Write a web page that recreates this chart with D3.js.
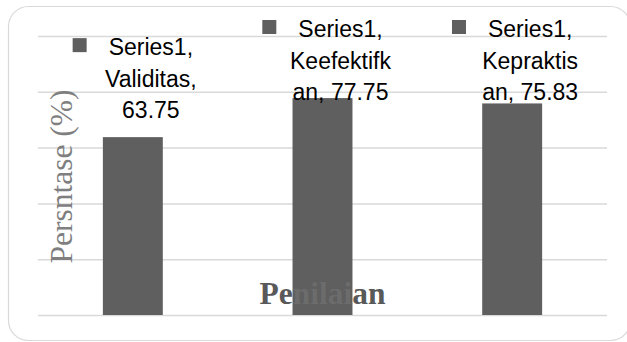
<!DOCTYPE html>
<html>
<head>
<meta charset="utf-8">
<script src="https://cdn.jsdelivr.net/npm/d3@7"></script>
<style>
	html, body { margin: 0; padding: 0; background: #fff; }
	svg { display: block; }
</style>
</head>
<body>
<div id="chart"></div>
<script>
// chart values
const categories = ["Validitas", "Keefektifkan", "Kepraktisan"];
const values = [63.75, 77.75, 75.83];
const labelLines = [
	["Series1,", "Validitas,", "63.75"],
	["Series1,", "Keefektifk", "an, 77.75"],
	["Series1,", "Kepraktis", "an, 75.83"]
];
const yTicks = [0, 20, 40, 60, 80, 100];
const yTitle = "Persntase (%)";
const xTitle = "Penilaian";

const width = 627,
			height = 342,
			plot = { left: 38, right: 607, top: 36, bottom: 315 },
			barColor = "#5f5f5f",
			gridColor = "#d9d9d9";

const svg = d3.select("#chart").append("svg")
	.attr("width", width)
	.attr("height", height);

// outer chart frame
svg.append("rect")
	.attr("x", 8.5)
	.attr("y", 6.5)
	.attr("width", 622)
	.attr("height", 334)
	.attr("rx", 20)
	.attr("fill", "#fff")
	.attr("stroke", gridColor)
	.attr("stroke-width", 1.2);

const x = d3.scaleBand()
	.domain(categories)
	.range([plot.left, plot.right])
	.paddingInner(0.684)
	.paddingOuter(0.342);

const y = d3.scaleLinear()
	.domain([0, 100])
	.range([plot.bottom, plot.top]);

// gridlines
const grid = svg.append("g")
	.attr("transform", "translate(" + plot.left + ",0)")
	.call(d3.axisLeft(y).tickValues(yTicks).tickSize(-(plot.right - plot.left)).tickFormat(""));
grid.select(".domain").remove();
grid.selectAll(".tick line")
	.attr("stroke", gridColor)
	.attr("stroke-width", 1.5);

// y axis title
svg.append("text")
	.attr("transform", "translate(72," + ((plot.top + plot.bottom) / 2 + 1) + ") rotate(-90)")
	.attr("text-anchor", "middle")
	.attr("font-family", "Liberation Serif, serif")
	.attr("font-size", 31.5)
	.attr("fill", "#7f7f7f")
	.text(yTitle);

// bars
const bars = svg.append("g").selectAll("rect")
	.data(values)
	.join("rect")
	.attr("x", (d, i) => x(categories[i]))
	.attr("y", d => y(d))
	.attr("width", x.bandwidth())
	.attr("height", d => y(0) - y(d))
	.attr("fill", barColor);

// x axis title, sits over the bars
const clip = svg.append("clipPath").attr("id", "barclip");
clip.selectAll("rect")
	.data(values)
	.join("rect")
	.attr("x", (d, i) => x(categories[i]))
	.attr("y", d => y(d))
	.attr("width", x.bandwidth())
	.attr("height", d => y(0) - y(d));

const xTitleX = (plot.left + plot.right) / 2;
svg.append("text")
	.attr("x", xTitleX)
	.attr("y", 304)
	.attr("text-anchor", "middle")
	.attr("font-family", "Liberation Serif, serif")
	.attr("font-weight", "bold")
	.attr("font-size", 31.5)
	.attr("fill", "#595959")
	.text(xTitle);
svg.append("text")
	.attr("x", xTitleX)
	.attr("y", 304)
	.attr("clip-path", "url(#barclip)")
	.attr("text-anchor", "middle")
	.attr("font-family", "Liberation Serif, serif")
	.attr("font-weight", "bold")
	.attr("font-size", 31.5)
	.attr("fill", "#6c6c6c")
	.text(xTitle);

// data labels with legend key
const lineH = 31.5,
			labelGap = 19,
			minFirstBase = 37;

const labels = svg.append("g").selectAll("g")
	.data(values)
	.join("g");

labels.each(function(d, i) {
	const g = d3.select(this),
				lines = labelLines[i],
				cx = x(categories[i]) + x.bandwidth() / 2 + 18;
	let firstBase = y(d) - labelGap - lineH * (lines.length - 1);
	if(firstBase < minFirstBase) firstBase = minFirstBase;

	const text = g.append("text")
		.attr("text-anchor", "middle")
		.attr("font-family", "Liberation Sans, Arial, sans-serif")
		.attr("font-size", 23)
		.attr("fill", "#000");
	lines.forEach((ln, j) => {
		text.append("tspan")
			.attr("x", cx)
			.attr("y", firstBase + j * lineH)
			.text(ln);
	});

	const first = text.select("tspan").node(),
				w = first.getComputedTextLength();
	g.append("rect")
		.attr("x", cx - w / 2 - 22 - 14)
		.attr("y", firstBase - 17)
		.attr("width", 14)
		.attr("height", 14)
		.attr("fill", barColor);
});
</script>
</body>
</html>
